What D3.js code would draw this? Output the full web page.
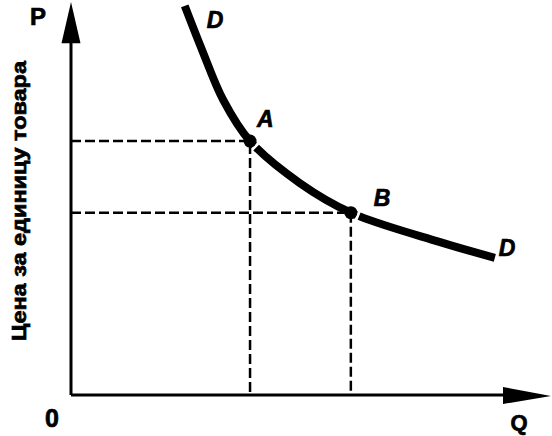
<!DOCTYPE html>
<html>
<head>
<meta charset="utf-8">
<script src="https://cdn.jsdelivr.net/npm/d3@7"></script>
<style>
  body { margin: 0; background: #fff; }
  text { font-family: "Liberation Sans", Arial, sans-serif; font-weight: bold; fill: #000; stroke: #000; stroke-width: 0.7px; }
</style>
</head>
<body>
<script>
// demand curve (axis units 0..10)
var demandQ = [2.37, 2.73, 3.17, 3.73, 4.77, 5.83, 7.69, 8.83];
var demandP = [9.90, 8.78, 7.51, 6.46, 5.39, 4.64, 3.89, 3.49];

// marked points
var pointNames = ["A", "B"];
var pointQ = [3.73, 5.83];
var pointP = [6.46, 4.64];

var axisLabels = { x: "Q", y: "P", origin: "0", title: "Цена за единицу товара", curve: "D" };

var width = 552,
    height = 436;

var x = d3.scaleLinear().domain([0, 10]).range([71, 551]);
var y = d3.scaleLinear().domain([0, 10]).range([395, 2]);

var svg = d3.select("body").append("svg")
    .attr("width", width)
    .attr("height", height)
    .style("background", "#fff");

// dashed guides
pointQ.forEach(function(q, i) {
  var p = pointP[i];
  svg.append("path")
    .attr("d", "M" + x(0) + "," + y(p) + "H" + x(q) + "V" + y(0))
    .attr("fill", "none")
    .attr("stroke", "#000")
    .attr("stroke-width", 2.5)
    .attr("stroke-dasharray", "10,4");
});

// axes
svg.append("line")
    .attr("x1", x(0)).attr("y1", y(0))
    .attr("x2", x(0)).attr("y2", y(9.3))
    .attr("stroke", "#000").attr("stroke-width", 3);
svg.append("line")
    .attr("x1", x(0)).attr("y1", y(0))
    .attr("x2", x(9.3)).attr("y2", y(0))
    .attr("stroke", "#000").attr("stroke-width", 3);

// arrow heads
svg.append("path")
    .attr("d", "M" + x(0) + "," + y(10) + "L" + (x(0) + 9.5) + "," + y(8.95) + "L" + (x(0) - 9.5) + "," + y(8.95) + "Z")
    .attr("fill", "#000");
svg.append("path")
    .attr("d", "M" + x(10) + "," + (y(0) + 1) + "L" + x(9.0) + "," + (y(0) - 8) + "L" + x(9.0) + "," + (y(0) + 9) + "Z")
    .attr("fill", "#000");

// demand curve
var curveData = demandQ.map(function(q, i) { return [q, demandP[i]]; });
var line = d3.line()
    .x(function(d) { return x(d[0]); })
    .y(function(d) { return y(d[1]); })
    .curve(d3.curveCatmullRom.alpha(0.5));

var curve = svg.append("path")
    .datum(curveData)
    .attr("d", line)
    .attr("fill", "none")
    .attr("stroke", "#000")
    .attr("stroke-width", 8);

// small white gaps just past A and B, like the original print
var node = curve.node();
var total = node.getTotalLength();
function lengthAt(px) {
  var lo = 0, hi = total;
  for (var k = 0; k < 40; k++) {
    var mid = (lo + hi) / 2;
    if (node.getPointAtLength(mid).x < px) lo = mid; else hi = mid;
  }
  return lo;
}
var la = lengthAt(x(pointQ[0])), lb = lengthAt(x(pointQ[1]));
curve.attr("stroke-dasharray", [la + 6, 3, lb - la - 3, 3, total].join(","));

// points
svg.selectAll("circle.pt")
  .data(pointQ)
  .enter().append("circle")
    .attr("class", "pt")
    .attr("cx", function(d) { return x(d); })
    .attr("cy", function(d, i) { return y(pointP[i]); })
    .attr("r", 6.5)
    .attr("fill", "#000");

svg.selectAll("text.pt")
  .data(pointNames)
  .enter().append("text")
    .attr("class", "pt")
    .attr("x", function(d, i) { return x(pointQ[i]) + (i == 0 ? 7 : 23); })
    .attr("y", function(d, i) { return y(pointP[i]) - (i == 0 ? 14 : 7); })
    .attr("font-size", 23)
    .attr("font-style", "italic")
    .text(function(d) { return d; });

// curve labels
svg.append("text")
    .attr("x", x(demandQ[0]) + 22).attr("y", 28)
    .attr("font-size", 23).attr("font-style", "italic")
    .text(axisLabels.curve);
svg.append("text")
    .attr("x", x(demandQ[demandQ.length - 1]) + 4).attr("y", 256)
    .attr("font-size", 23).attr("font-style", "italic")
    .text(axisLabels.curve);

// axis labels
svg.append("text")
    .attr("x", 38).attr("y", 25)
    .attr("text-anchor", "middle")
    .attr("font-size", 24)
    .text(axisLabels.y);
svg.append("text")
    .attr("x", 52).attr("y", 427)
    .attr("text-anchor", "middle")
    .attr("font-size", 25)
    .text(axisLabels.origin);
svg.append("text")
    .attr("x", 519).attr("y", 430)
    .attr("text-anchor", "middle")
    .attr("font-size", 22)
    .text(axisLabels.x);

svg.append("text")
    .attr("transform", "translate(26,201) rotate(-90)")
    .attr("text-anchor", "middle")
    .attr("font-size", 20)
    .attr("textLength", 280)
    .attr("lengthAdjust", "spacingAndGlyphs")
    .text(axisLabels.title);
</script>
</body>
</html>
